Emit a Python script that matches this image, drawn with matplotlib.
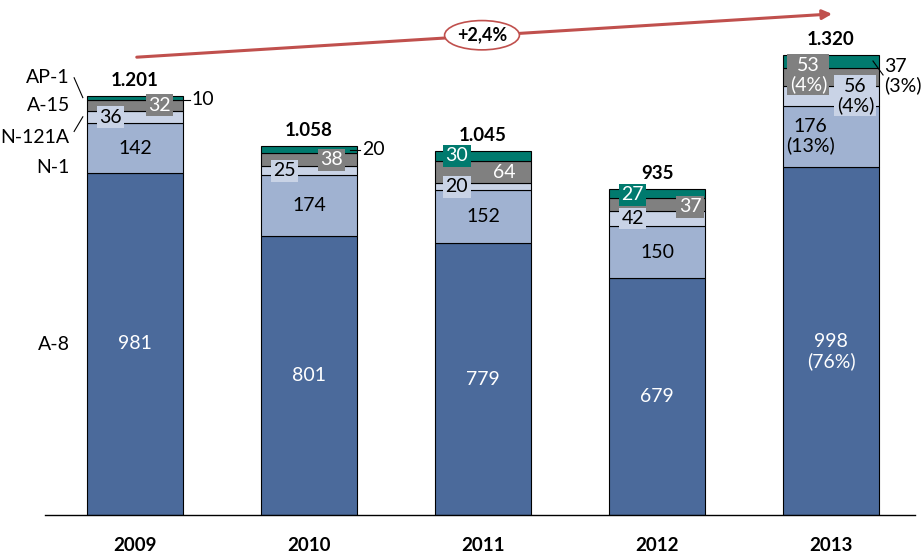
import numpy as np
import matplotlib
matplotlib.use("Agg")
import matplotlib.pyplot as plt
from matplotlib.patches import Ellipse

plt.rcParams['font.family'] = ['Lato', 'DejaVu Sans']

years = ['2009', '2010', '2011', '2012', '2013']
series = ['A-8', 'N-1', 'N-121A', 'A-15', 'AP-1']
a8 = [981, 801, 779, 679, 998]
n1 = [142, 174, 152, 150, 176]
n121a = [36, 25, 20, 42, 56]
a15 = [32, 38, 64, 37, 53]
ap1 = [10, 20, 30, 27, 37]
totals = ['1.201', '1.058', '1.045', '935', '1.320']
share_2013 = ['(76%)', '(13%)', '(4%)', '(4%)', '(3%)']
growth = '+2,4%'

colors = ['#4B6A9B', '#A0B2D1', '#C9D3E6', '#808080', '#007A6E']
values = np.array([a8, n1, n121a, a15, ap1], dtype=float)
bottoms = np.vstack([np.zeros(5), np.cumsum(values, axis=0)[:-1]])
mids = bottoms + values / 2

fig = plt.figure(figsize=(9.21, 5.56), dpi=100)
ax = fig.add_axes([0, 41 / 556, 1, 515 / 556])
x = np.arange(len(years))
w = 0.552
for k in range(len(series)):
    ax.bar(x, values[k], w, bottom=bottoms[k], color=colors[k],
           edgecolor='black', linewidth=0.8, zorder=2)

ax.set_xlim(-0.776, 4.517)
ax.set_ylim(0, 1477)
ax.axis('off')
ax.plot([-0.52, 4.48], [0, 0], color='black', lw=1, clip_on=False)

fs = 14
def lab(xx, yy, s, color='black', box=None, ha='center'):
    kw = {}
    if box:
        kw['bbox'] = dict(boxstyle='square,pad=0.12', fc=box, ec='none')
    ax.text(xx, yy, s, ha=ha, va='center', fontsize=fs, color=color,
            zorder=4, linespacing=1.1, **kw)

# A-8 and N-1 labels
for i in range(4):
    lab(i, mids[0][i], str(a8[i]), color='white')
    lab(i, mids[1][i], str(n1[i]))
lab(4, mids[0][4] - 30, f'{a8[4]}\n{share_2013[0]}', color='white')
lab(4 - 0.12, mids[1][4], f'{n1[4]}\n{share_2013[1]}')

# 2009
lab(0 - 0.14, mids[2][0], str(n121a[0]), box=colors[2])
lab(0 + 0.14, mids[3][0], str(a15[0]), color='white', box=colors[3])
ax.plot([0.276, 0.316], [mids[4][0] - 5] * 2, color='black', lw=0.8)
lab(0.325, mids[4][0] - 5, str(ap1[0]), ha='left')
# 2010
lab(1 - 0.14, mids[2][1], str(n121a[1]), box=colors[2])
lab(1 + 0.13, mids[3][1], str(a15[1]), color='white', box=colors[3])
ax.plot([1.236, 1.293], [mids[4][1]] * 2, color='black', lw=0.8, zorder=5)
lab(1.305, mids[4][1], str(ap1[1]), ha='left')
# 2011
lab(2 - 0.15, mids[4][2], str(ap1[2]), color='white', box=colors[4])
lab(2 + 0.12, mids[3][2], str(a15[2]), color='white')
lab(2 - 0.15, mids[2][2], str(n121a[2]), box=colors[2])
# 2012
lab(3 - 0.14, mids[4][3] - 3, str(ap1[3]), color='white', box=colors[4])
lab(3 - 0.14, mids[2][3], str(n121a[3]), box=colors[2])
lab(3 + 0.19, mids[3][3] - 6, str(a15[3]), color='white', box=colors[3])
# 2013
lab(4 - 0.13, mids[3][4] + 6, f'{a15[4]}\n{share_2013[3]}', color='white', box=colors[3])
lab(4 + 0.14, mids[2][4], f'{n121a[4]}\n{share_2013[2]}', box=colors[2])
ax.plot([4.241, 4.299], [1302, 1262], color='black', lw=0.8, zorder=5)
lab(4.305, 1259, f'{ap1[4]}\n{share_2013[4]}', ha='left')

# totals
tops = values.sum(axis=0)
for i in range(5):
    ax.text(i, tops[i] + 44, totals[i], ha='center', va='center',
            fontsize=13.5, fontweight='bold')

# year labels
for i in range(5):
    ax.text(i, -88, years[i], ha='center', va='center', fontsize=13.5,
            fontweight='bold', clip_on=False)

# series labels on the left
left_x = -0.375
ax.text(left_x, 1255, series[4], ha='right', va='center', fontsize=fs)
ax.text(left_x, 1175, series[3], ha='right', va='center', fontsize=fs)
ax.text(left_x, 1084, series[2], ha='right', va='center', fontsize=fs)
ax.text(left_x, 998, series[1], ha='right', va='center', fontsize=fs)
ax.text(left_x, 488, series[0], ha='right', va='center', fontsize=fs)
ax.plot([-0.35, -0.30], [1254, 1197], color='black', lw=0.8)
ax.plot([-0.35, -0.30], [1100, 1142], color='black', lw=0.8)

# growth arrow
red = '#C0504D'
ax.annotate('', xy=(4.006, 1437), xytext=(0.01, 1313),
            arrowprops=dict(arrowstyle='-|>', color=red, lw=2.2,
                            mutation_scale=14, shrinkA=0, shrinkB=0))
ax.add_patch(Ellipse((1.994, 1376), 0.43, 84, fc='white', ec=red,
                     lw=1.2, zorder=5))
ax.text(1.994, 1376, growth, ha='center', va='center', fontsize=13,
        fontweight='bold', zorder=6)

fig.savefig('out.png', dpi=100)
